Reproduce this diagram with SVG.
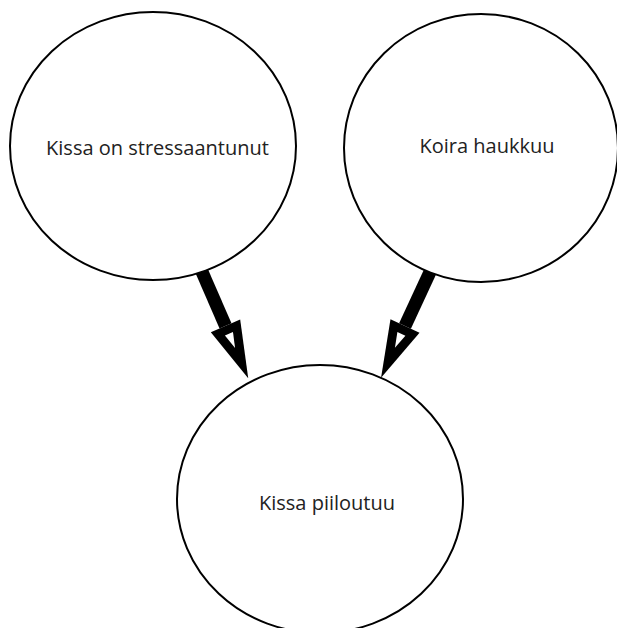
<svg xmlns="http://www.w3.org/2000/svg" width="617" height="628" viewBox="0 0 617 628">
  <style>
    .node { fill: #ffffff; stroke: #000000; stroke-width: 2; }
    .label { font-family: "Open Sans", "Noto Sans", "DejaVu Sans", sans-serif; font-size: 20px; fill: #222222; text-anchor: middle; }
    .shaft { fill: none; stroke: #000000; stroke-width: 13; stroke-linecap: butt; }
  </style>
  <defs>
    <!-- hollow triangular head: base at the origin, tip 57 units ahead -->
    <marker id="hollow-head" markerUnits="userSpaceOnUse" viewBox="-2 -19 62 38" refX="0" refY="0" markerWidth="62" markerHeight="38" orient="auto">
      <polygon points="0,-16 57,0 0,16" fill="#000000"/>
      <polygon points="8.6,-4.4 24,0 8.6,4.4" fill="#ffffff"/>
    </marker>
  </defs>

  <rect width="617" height="628" fill="#ffffff"/>

  <g id="connectors">
    <line id="edge-stress-hide" class="shaft" x1="193.6" y1="252.5" x2="225.5" y2="325.9" marker-end="url(#hollow-head)"/>
    <line id="edge-bark-hide" class="shaft" x1="438.6" y1="253.4" x2="405" y2="326" marker-end="url(#hollow-head)"/>
  </g>

  <g id="node-stress">
    <ellipse class="node" cx="153" cy="146" rx="143" ry="134"/>
    <text class="label" x="157.5" y="155">Kissa on stressaantunut</text>
  </g>

  <g id="node-bark">
    <ellipse class="node" cx="481" cy="148" rx="137" ry="134"/>
    <text class="label" x="487" y="153">Koira haukkuu</text>
  </g>

  <g id="node-hide">
    <ellipse class="node" cx="320" cy="499" rx="143" ry="134"/>
    <text class="label" x="327" y="510">Kissa piiloutuu</text>
  </g>
</svg>
